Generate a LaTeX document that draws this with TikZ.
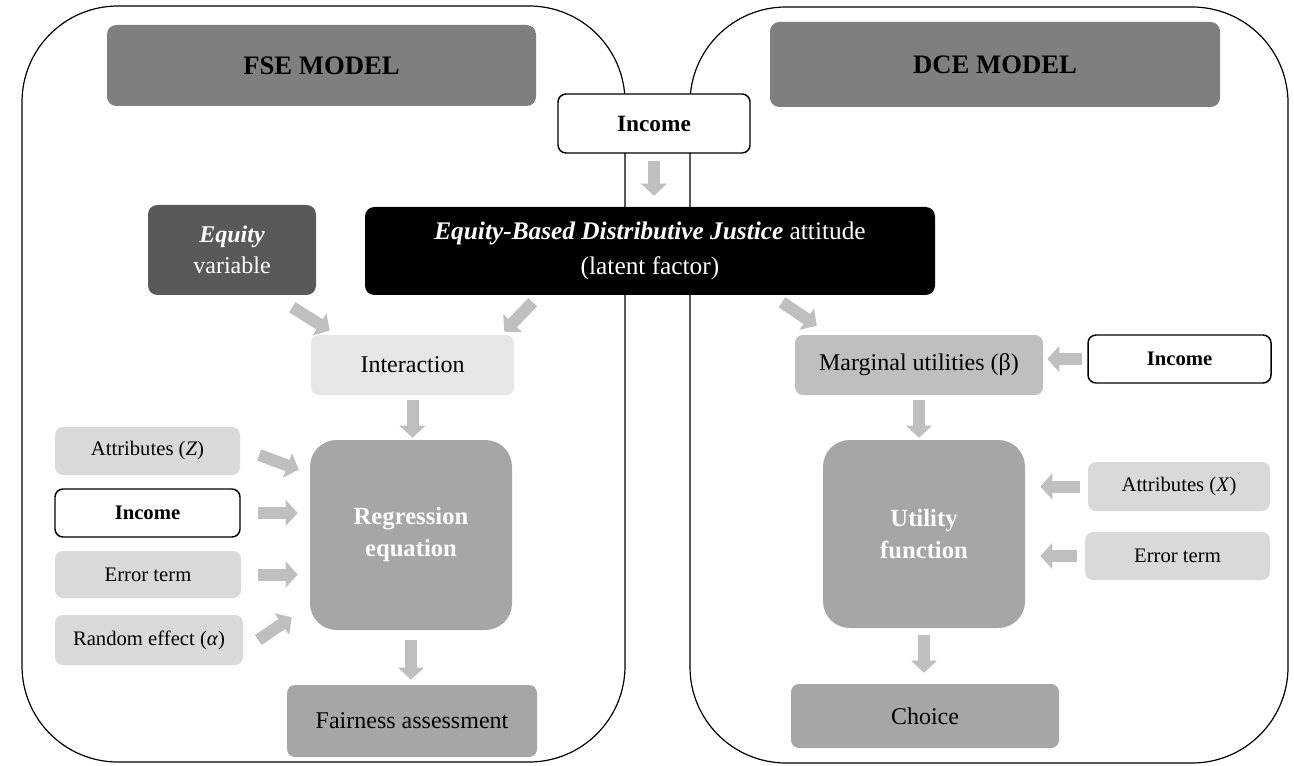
\documentclass[tikz,border=0pt]{standalone}
\usepackage{fontspec}
\setmainfont{Liberation Serif}
\usetikzlibrary{arrows.meta}
\definecolor{titlegray}{HTML}{7F7F7F}
\definecolor{eqgray}{HTML}{595959}
\definecolor{intergray}{HTML}{E6E6E6}
\definecolor{inputgray}{HTML}{D9D9D9}
\definecolor{marggray}{HTML}{BFBFBF}
\definecolor{eqngray}{HTML}{A6A6A6}
\definecolor{arrowgray}{HTML}{BFBFBF}
\begin{document}
\begin{tikzpicture}[x=0.75pt, y=-0.75pt,
    box/.style={rounded corners=6pt, inner sep=0pt, align=center, font=\fontsize{18}{24}\selectfont},
    titlebox/.style={box, fill=titlegray, rounded corners=7pt, font=\fontsize{20}{24}\selectfont\bfseries},
    inbox/.style={box, fill=inputgray, font=\fontsize{15.5}{20}\selectfont},
    incbox/.style={box, fill=white, draw=black, line width=1.1pt, font=\fontsize{15.5}{20}\selectfont\bfseries},
    eqnbox/.style={box, fill=eqngray, text=white, rounded corners=20pt, font=\fontsize{18.5}{24}\selectfont\bfseries},
    garrow/.style={draw=arrowgray, line width=9pt, -{Triangle[length=9pt,width=19pt]}}]
\useasboundingbox (0,0) rectangle (1294,766);
\draw[line width=0.9pt, rounded corners=72pt] (22,6) rectangle (625,762);
\draw[line width=0.9pt, rounded corners=72pt] (690,7) rectangle (1288,763);

\node[titlebox, minimum width=321.75pt, minimum height=60.75pt] (fse) at (321.5,65.5) {FSE MODEL};
\node[titlebox, minimum width=337.5pt, minimum height=63.75pt] (dce) at (995,64.5) {DCE MODEL};
\node[incbox, minimum width=144pt, minimum height=44.25pt, font=\fontsize{17.5}{20}\selectfont\bfseries] (inc0) at (654,123.5) {Income};
\node[box, fill=black, text=white, rounded corners=7pt, minimum width=427.5pt, minimum height=66pt,
    font=\fontsize{19}{26}\selectfont] (blk) at (650,251)
    {{\bfseries\itshape Equity-Based Distributive Justice} attitude\\(latent factor)};
\node[box, fill=eqgray, text=white, rounded corners=7pt, minimum width=126pt, minimum height=67.5pt,
    font=\fontsize{18}{23}\selectfont] (eqv) at (232,250) {{\bfseries\itshape Equity}\\variable};

\node[box, fill=intergray, minimum width=152.25pt, minimum height=45pt] (inter) at (412.5,365) {Interaction};
\node[eqnbox, minimum width=151.5pt, minimum height=142.5pt] (regr) at (411,535) {Regression\\equation};
\node[inbox, minimum width=138.75pt, minimum height=36pt] (attz) at (147.5,451) {Attributes (\textit{Z})};
\node[incbox, minimum width=138.75pt, minimum height=36pt] (inc1) at (147.5,513) {Income};
\node[inbox, minimum width=139.5pt, minimum height=35.25pt] (err1) at (148,574.5) {Error term};
\node[inbox, minimum width=141pt, minimum height=37.5pt] (rnd) at (149,640) {Random effect (\textit{α})};
\node[box, fill=eqngray, minimum width=187.5pt, minimum height=54pt] (fair) at (412,721) {Fairness assessment};

\node[box, fill=marggray, minimum width=186pt, minimum height=45pt] (marg) at (919,365) {Marginal utilities (β)};
\node[incbox, minimum width=137.25pt, minimum height=36pt] (inc2) at (1179.5,359) {Income};
\node[eqnbox, minimum width=151.5pt, minimum height=141pt] (util) at (924,534) {Utility\\function};
\node[inbox, minimum width=136.5pt, minimum height=36.75pt] (attx) at (1179,486.5) {Attributes (\textit{X})};
\node[inbox, minimum width=138.75pt, minimum height=36pt] (err2) at (1177.5,556) {Error term};
\node[box, fill=eqngray, minimum width=201pt, minimum height=48pt] (choice) at (925,716) {Choice};

\draw[garrow] ([shift={(0,7)}]inc0.south) -- ([shift={(0,-11)}]inc0.south |- blk.north);
\draw[garrow] ([shift={(-24,12)}]eqv.south east) -- ([shift={(19,-4)}]inter.north west);
\draw[garrow] ([shift={(168,7)}]blk.south west) -- ([shift={(-10,-3)}]inter.north east);
\draw[garrow] ([shift={(132,7)}]blk.south) -- ([shift={(22,-9)}]marg.north west);
\draw[garrow] ([shift={(0,5)}]inter.south) -- ([shift={(0,-2)}]inter.south |- regr.north);
\draw[garrow] ([shift={(19,4)}]attz.east) -- ([shift={(-11,30)}]regr.north west);
\foreach \n in {inc1,err1}
{
    \draw[garrow] ([shift={(17,0)}]\n.east) -- ([shift={(-12,0)}]\n.east -| regr.west);
}
\draw[garrow] ([shift={(15,0)}]rnd.east) -- ([shift={(-18,-13)}]regr.south west);
\draw[garrow] ([shift={(0,10)}]regr.south) -- ([shift={(0,-5)}]regr.south |- fair.north);

\draw[garrow] ([shift={(-5,0)}]inc2.west) -- ([shift={(4,0)}]inc2.west -| marg.east);
\draw[garrow] ([shift={(0,5)}]marg.south) -- ([shift={(0,-2)}]marg.south |- util.north);
\foreach \n in {attx,err2}
{
    \draw[garrow] ([shift={(-8,0)}]\n.west) -- ([shift={(15,0)}]\n.west -| util.east);
}
\draw[garrow] ([shift={(0,7)}]util.south) -- ([shift={(0,-11)}]util.south |- choice.north);
\end{tikzpicture}
\end{document}
